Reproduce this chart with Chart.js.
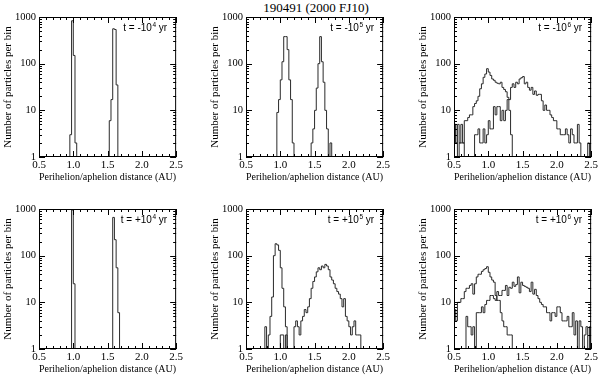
<!DOCTYPE html>
<html>
<head>
<meta charset="utf-8">
<script src="https://cdn.jsdelivr.net/npm/chart.js@4.4.0/dist/chart.umd.min.js"></script>
<style>
  body { margin: 0; background: #fff; width: 600px; height: 375px; overflow: hidden; position: relative; }
  .panel { position: absolute; }
  #title { position: absolute; left: 166px; width: 300px; top: 0; text-align: center;
           font: 13px 'Liberation Serif'; color: #000; line-height: 15px; }
</style>
</head>
<body>
<div id="title">190491 (2000 FJ10)</div>
<canvas id="p0" class="panel"></canvas>
<canvas id="p1" class="panel"></canvas>
<canvas id="p2" class="panel"></canvas>
<canvas id="p3" class="panel"></canvas>
<canvas id="p4" class="panel"></canvas>
<canvas id="p5" class="panel"></canvas>
<script>
// histogram bins (AU)
const binWidth = 0.025;
const xTicks = [0.5, 1.0, 1.5, 2.0, 2.5];
const yTicks = [1, 10, 100, 1000];
const timeSigns = ['-', '-', '-', '+', '+', '+'];
const timeExps = ['4', '5', '6', '4', '5', '6'];

// t = -10^4 yr
const periM4Start = 0.95;
const periM4 = [3, 830, 150, 2];
const aphM4Start = 1.525;
const aphM4 = [6, 17, 560, 540, 35];

// t = -10^5 yr
const periM5Start = 0.95;
const periM5 = [9, 17, 45, 110, 380, 380, 200, 45, 17, 2];
const aphM5Start = 1.45;
const aphM5 = [2, 4, 10, 30, 100, 380, 110, 40, 10, 4, 0, 2];

// t = -10^6 yr
const periM6Start = 0.5;
const periM6 = [5, 2, 5, 2, 5, 2, 6, 6, 7, 8, 8, 12, 14, 16, 20, 29, 37, 51, 60, 78, 66, 56, 47, 44, 40, 38, 37, 40, 31, 28, 25, 19, 10, 3, 1];
const aphM6Start = 0.5;
const aphM6 = [5, 2, 0, 2, 2, 2, 0, 0, 0, 0, 0, 0,
  3, 3, 4, 2, 2, 4, 2, 3, 6, 4, 4, 12, 8, 12, 12, 6, 10, 6, 10, 17, 17, 31, 37, 31, 40, 37, 47, 50,
  53, 37, 40, 31, 27, 31, 22, 26, 21, 22, 22, 16, 10, 13, 10, 10, 8, 7, 6, 6, 4, 4, 3, 3, 3, 4, 3, 2,
  4, 3, 2, 2, 5, 2, 0, 0, 0, 0, 2];

// t = +10^4 yr
const periP4Start = 0.975;
const periP4 = [950, 25];
const aphP4Start = 1.575;
const aphP4 = [660, 220, 55, 6];

// t = +10^5 yr
const periP5Start = 0.775;
const periP5 = [3, 0, 2, 5, 13, 100, 180, 170, 130, 55, 20, 8, 3];
const aphP5Start = 1.0;
const aphP5 = [2, 2, 0, 2, 0, 0, 0, 0, 3, 4, 3, 2, 4, 5, 7, 6, 8, 12, 20, 28, 35, 45, 55, 50, 60, 55, 65, 60, 50, 35, 30, 25, 20, 17, 15, 12, 8, 12, 5, 4, 3, 2, 3, 4, 2, 2, 2];

// t = +10^6 yr
const periP6Start = 0.5;
const periP6 = [7, 4, 10, 10, 12, 12, 17, 20, 20, 23, 25, 15, 25, 35, 40, 40, 46, 50, 53, 58, 44, 35, 30, 27, 14, 11, 11, 6, 4, 3, 3, 2, 2, 2, 1, 1];
const aphP6Start = 0.675;
const aphP6 = [5, 3, 3, 2, 3, 0, 6, 6, 6, 8, 6, 9, 11, 11, 14, 14, 12, 11, 17, 14, 14, 18, 18, 23, 14, 21, 20, 27, 22, 24,
  35, 16, 27, 23, 22, 21, 20, 17, 27, 15, 19, 14, 12, 10, 9, 8, 8, 6, 6, 4, 6, 6, 5, 8, 8, 6, 4, 4, 4, 5,
  3, 3, 6, 2, 4, 1, 4, 3, 0, 2, 3, 1, 3];

const panelSeries = [
  [[periM4Start, periM4], [aphM4Start, aphM4]],
  [[periM5Start, periM5], [aphM5Start, aphM5]],
  [[periM6Start, periM6], [aphM6Start, aphM6]],
  [[periP4Start, periP4], [aphP4Start, aphP4]],
  [[periP5Start, periP5], [aphP5Start, aphP5]],
  [[periP6Start, periP6], [aphP6Start, aphP6]]
];

const plotLefts = [39, 246, 454];
const plotTops = [17, 209];
const plotSize = 140;
const leftRoom = 39, topRoom = 10, rightRoom = 6, bottomRoom = 27;
const floorVal = 0.5; // empty bins drop below the axis

const serif = "'Liberation Serif', 'Times New Roman', serif";
const sans = "'Liberation Sans', Arial, sans-serif";
const lineColor = '#2a2a2a';

// step histogram: points on bin edges, value held to next edge
function histPoints(start, counts) {
  const pts = [{ x: start, y: floorVal }];
  counts.forEach((c, i) => {
    pts.push({ x: start + i * binWidth, y: c > 0 ? c : floorVal });
  });
  pts.push({ x: start + counts.length * binWidth, y: floorVal });
  return pts;
}

// frame with inward ticks on all four sides, plus time label
const frameTicks = {
  id: 'frameTicks',
  afterDraw(chart, args, opts) {
    const { ctx, chartArea: a, scales } = chart;
    const xs = scales.x, ys = scales.y;
    ctx.save();
    ctx.strokeStyle = '#000';
    ctx.lineWidth = 1;
    ctx.strokeRect(a.left + 0.5, a.top + 0.5, a.right - a.left - 1, a.bottom - a.top - 1);
    ctx.beginPath();
    for (let v = 0.5; v <= 2.5001; v += 0.1) {
      const px = Math.round(xs.getPixelForValue(v)) + 0.5;
      const major = xTicks.some(t => Math.abs(t - v) < 1e-6);
      const len = major ? 6 : 3;
      ctx.moveTo(px, a.bottom); ctx.lineTo(px, a.bottom - len);
      ctx.moveTo(px, a.top); ctx.lineTo(px, a.top + len);
    }
    for (let d = 1; d < 1000; d *= 10) {
      for (let m = 1; m < 10; m++) {
        const py = Math.round(ys.getPixelForValue(d * m)) + 0.5;
        const len = m === 1 ? 6 : 3;
        ctx.moveTo(a.left, py); ctx.lineTo(a.left + len, py);
        ctx.moveTo(a.right, py); ctx.lineTo(a.right - len, py);
      }
    }
    ctx.stroke();

    // "t = -10^n yr"
    const base = 't = ' + opts.sign + '10';
    ctx.fillStyle = '#000';
    ctx.textBaseline = 'alphabetic';
    ctx.font = '10px ' + sans;
    const w1 = ctx.measureText(base).width;
    const w3 = ctx.measureText(' yr').width;
    ctx.font = '6.5px ' + sans;
    const w2 = ctx.measureText(opts.exp).width;
    const right = a.right - 9;
    const y = a.top + 14;
    const x = right - w1 - w2 - w3 - 0.5;
    ctx.font = '10px ' + sans;
    ctx.fillText(base, x, y);
    ctx.font = '6.5px ' + sans;
    ctx.fillText(opts.exp, x + w1 + 0.5, y - 4.5);
    ctx.font = '10px ' + sans;
    ctx.fillText(' yr', x + w1 + w2 + 0.5, y);
    ctx.restore();
  }
};

panelSeries.forEach((series, idx) => {
  const col = idx % 3, row = Math.floor(idx / 3);
  const canvas = document.getElementById('p' + idx);
  canvas.style.left = (plotLefts[col] - leftRoom) + 'px';
  canvas.style.top = (plotTops[row] - topRoom) + 'px';
  canvas.width = leftRoom + plotSize + rightRoom;
  canvas.height = topRoom + plotSize + bottomRoom;
  canvas.style.width = canvas.width + 'px';
  canvas.style.height = canvas.height + 'px';

  new Chart(canvas, {
    type: 'line',
    data: {
      datasets: series.map(([start, counts]) => ({
        data: histPoints(start, counts),
        borderColor: lineColor,
        borderWidth: 1,
        pointRadius: 0,
        stepped: 'before',
        fill: false
      }))
    },
    options: {
      responsive: false,
      animation: false,
      events: [],
      layout: { padding: { left: 0, top: topRoom, right: rightRoom, bottom: 0 } },
      plugins: {
        legend: { display: false },
        tooltip: { enabled: false },
        frameTicks: { sign: timeSigns[idx], exp: timeExps[idx] }
      },
      scales: {
        x: {
          type: 'linear', min: 0.5, max: 2.5,
          afterBuildTicks: s => { s.ticks = xTicks.map(v => ({ value: v })); },
          afterFit: s => { s.height = bottomRoom; },
          ticks: { callback: v => v.toFixed(1), color: '#000', font: { family: serif, size: 11 },
                   maxRotation: 0, padding: 2 },
          grid: { display: false, drawTicks: false },
          border: { display: false },
          title: { display: true, text: 'Perihelion/aphelion distance (AU)', color: '#000',
                   font: { family: serif, size: 11 }, padding: { top: 0, bottom: 0 } }
        },
        y: {
          type: 'logarithmic', min: 1, max: 1000,
          afterBuildTicks: s => { s.ticks = yTicks.map(v => ({ value: v })); },
          afterFit: s => { s.width = leftRoom; },
          ticks: { callback: v => String(v), color: '#000', font: { family: serif, size: 10.5 }, padding: 3 },
          grid: { display: false, drawTicks: false },
          border: { display: false },
          title: { display: true, text: 'Number of particles per bin', color: '#000',
                   font: { family: serif, size: 11 }, padding: { top: 2, bottom: 0 } }
        }
      }
    },
    plugins: [frameTicks]
  });
});
</script>
</body>
</html>
